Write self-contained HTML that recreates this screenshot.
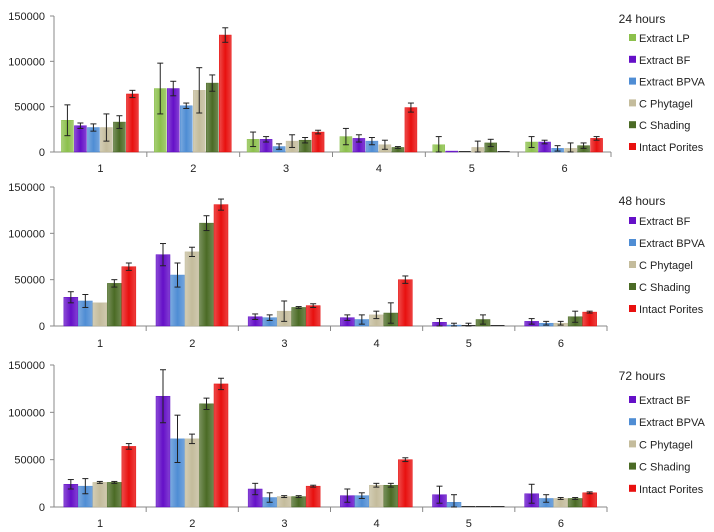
<!DOCTYPE html>
<html><head><meta charset="utf-8"><style>
body{margin:0;background:#fff;}
svg{display:block;font-family:"Liberation Sans",sans-serif;}
</style></head><body>
<svg id="c" width="714" height="532"></svg>
<script>
const categories=["1","2","3","4","5","6"];
const yTicks=[0,50000,100000,150000];
const p1Series=["Extract LP","Extract BF","Extract BPVA","C Phytagel","C Shading","Intact Porites"];
const p1Values=[[35000,70000,14000,17000,8000,11000],[29000,70000,14000,15000,1000,11000],[27000,51000,6000,12000,0,4000],[27000,68000,12000,8000,5000,4000],[33000,76000,13000,5000,10000,7000],[64000,129000,22000,49000,0,15000]];
const p1Errors=[[17000,28000,8000,9000,9000,6000],[3000,8000,3000,4000,0,2000],[4000,3000,3000,4000,0,3000],[15000,25000,7000,5000,7000,6000],[7000,9000,3000,1000,4000,3000],[4000,8000,2000,5000,0,2000]];
const p2Series=["Extract BF","Extract BPVA","C Phytagel","C Shading","Intact Porites"];
const p2Values=[[31000,77000,10000,9000,4000,5000],[27000,55000,9000,7000,1000,3000],[25000,80000,16000,12000,0,3000],[46000,111000,20000,14000,7000,10000],[64000,131000,22000,50000,0,15000]];
const p2Errors=[[6000,12000,3000,3000,4000,3000],[7000,13000,3000,5000,2000,2000],[0,5000,11000,4000,3000,2000],[4000,8000,1000,11000,5000,6000],[4000,6000,2000,4000,0,1000]];
const p3Series=["Extract BF","Extract BPVA","C Phytagel","C Shading","Intact Porites"];
const p3Values=[[24000,117000,19000,12000,13000,14000],[22000,72000,10000,12000,5000,9000],[26000,72000,11000,23000,0,9000],[26000,109000,11000,23000,0,9000],[64000,130000,22000,50000,0,15000]];
const p3Errors=[[5000,28000,6000,7000,9000,10000],[8000,25000,5000,3000,8000,4000],[1000,5000,1000,2000,0,1000],[1000,6000,1000,2000,0,1000],[3000,6000,1000,2000,0,1000]];
const titles=["24 hours","48 hours","72 hours"];
const colors={"Extract LP":"#8cc04c","Extract BF":"#6510c8","Extract BPVA":"#4f8dd4","C Phytagel":"#c4bc9c","C Shading":"#4b6b25","Intact Porites":"#e8100f"};
const NS="http://www.w3.org/2000/svg";
const svg=document.getElementById('c');
function el(t,a,p){const e=document.createElementNS(NS,t);for(const k in a)e.setAttribute(k,a[k]);(p||svg).appendChild(e);return e;}
const defs=el('defs',{});
Object.keys(colors).forEach((k,i)=>{const g=el('linearGradient',{id:'g'+i,x1:0,x2:1,y1:0,y2:0},defs);
el('stop',{offset:'0','stop-color':colors[k],'stop-opacity':'0.75'},g);
el('stop',{offset:'0.5','stop-color':colors[k]},g);
el('stop',{offset:'1','stop-color':colors[k],'stop-opacity':'0.8'},g);});
const panels=[
 {series:p1Series,vals:p1Values,errs:p1Errors,top:16,bot:152,right:611,bw:12,pitch:13,lab:172,leg:{ty:23,y0:38,dy:21.8}},
 {series:p2Series,vals:p2Values,errs:p2Errors,top:187,bot:326,right:607,bw:14,pitch:14.5,lab:347,leg:{ty:205,y0:221,dy:22}},
 {series:p3Series,vals:p3Values,errs:p3Errors,top:365,bot:507,right:607,bw:14,pitch:14.5,lab:527,leg:{ty:380,y0:400,dy:22.2}}];
panels.forEach((P,pi)=>{
 const g=el('g',{});
 
 
 const x0=54,gw=(P.right-x0)/categories.length;
 const y=v=>P.bot-(v/150000)*(P.bot-P.top);
 el('line',{x1:x0,x2:x0,y1:P.top,y2:P.bot,stroke:'#888'},g);
 el('line',{x1:x0,x2:P.right,y1:P.bot,y2:P.bot,stroke:'#888'},g);
 yTicks.forEach(t=>{el('line',{x1:x0-4,x2:x0,y1:y(t),y2:y(t),stroke:'#888'},g);
  const tx=el('text',{x:x0-9,y:y(t)+4,'text-anchor':'end','font-size':11,fill:'#222'},g);tx.textContent=t;
  });
 categories.forEach((c,ci)=>{
  el('line',{x1:x0+gw*(ci+1),x2:x0+gw*(ci+1),y1:P.bot,y2:P.bot+5,stroke:'#888'},g);
  const tx=el('text',{x:x0+gw*(ci+0.5),y:P.lab,'text-anchor':'middle','font-size':11,fill:'#222'},g);tx.textContent=c;
  
  const n=P.series.length,off=(gw-n*P.pitch)/2;
  P.series.forEach((s,si)=>{
   const v=P.vals[si][ci],e=P.errs[si][ci];
   const bx=x0+gw*ci+off+si*P.pitch;
   const ci2=Object.keys(colors).indexOf(s);
   if(v>0){const r=el('rect',{x:bx,y:y(v),width:P.bw,height:P.bot-y(v),fill:'url(#g'+ci2+')',stroke:colors[s],'stroke-width':0.5},g);
    }
   else{el('line',{x1:bx,x2:bx+P.bw,y1:P.bot-0.5,y2:P.bot-0.5,stroke:'#333'},g);}
   if(e>0){const cx=bx+P.bw/2;
    el('line',{x1:cx,x2:cx,y1:y(v+e),y2:y(Math.max(0,v-e)),stroke:'#222','stroke-width':1},g);
    el('line',{x1:cx-3,x2:cx+3,y1:y(v+e),y2:y(v+e),stroke:'#222','stroke-width':1},g);
    el('line',{x1:cx-3,x2:cx+3,y1:y(Math.max(0,v-e)),y2:y(Math.max(0,v-e)),stroke:'#222','stroke-width':1},g);}
  });
 });
 const tt=el('text',{x:642,y:P.leg.ty,'text-anchor':'middle','font-size':12,fill:'#222'},g);tt.textContent=titles[pi];
 
 P.series.forEach((s,si)=>{const ly=P.leg.y0+si*P.leg.dy;
  const lg=el('g',{},g);
  el('rect',{x:629,y:ly-4,width:7,height:7,fill:colors[s]},lg);
  const lt=el('text',{x:639,y:ly+4,'font-size':11,fill:'#222'},lg);lt.textContent=s;});
});
</script>
</body></html>
